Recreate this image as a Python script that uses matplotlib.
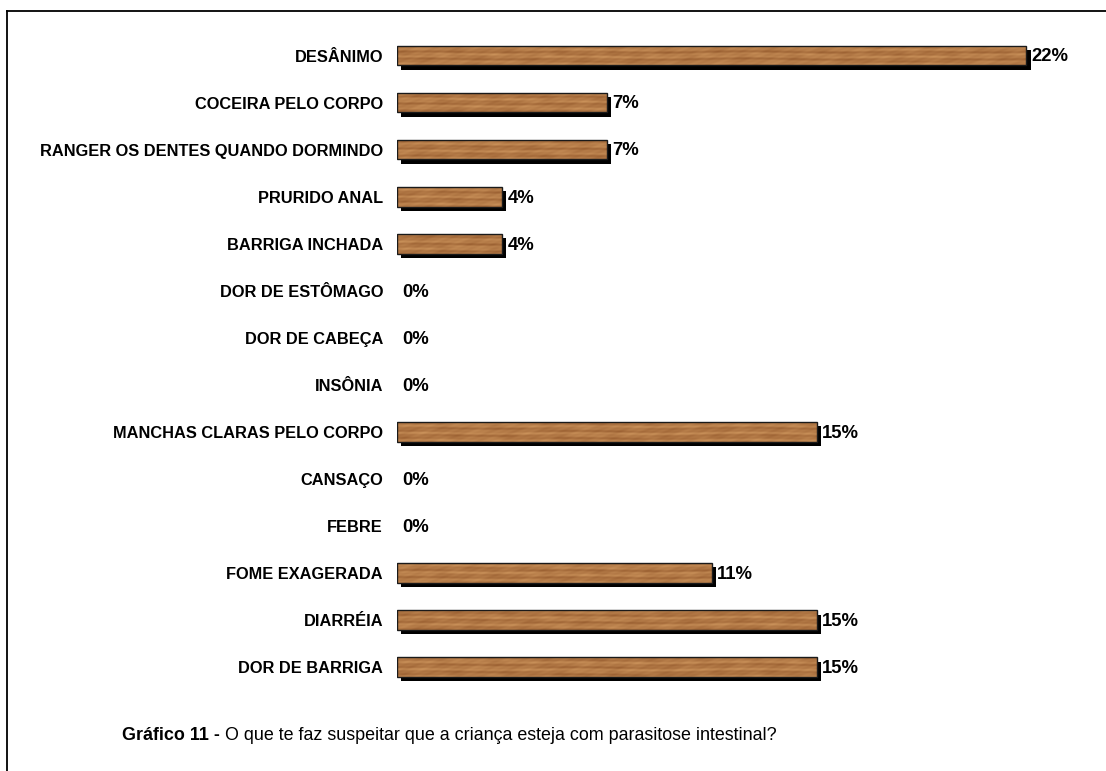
import numpy as np
import matplotlib.pyplot as plt
from matplotlib import patheffects
from matplotlib.lines import Line2D

plt.rcParams['font.family'] = ['Liberation Sans', 'DejaVu Sans']

# sintomas (de cima para baixo) e percentuais
sintomas = ['DESÂNIMO', 'COCEIRA PELO CORPO', 'RANGER OS DENTES QUANDO DORMINDO',
            'PRURIDO ANAL', 'BARRIGA INCHADA', 'DOR DE ESTÔMAGO', 'DOR DE CABEÇA',
            'INSÔNIA', 'MANCHAS CLARAS PELO CORPO', 'CANSAÇO', 'FEBRE',
            'FOME EXAGERADA', 'DIARRÉIA', 'DOR DE BARRIGA']
percentuais = [22.2, 7.4, 7.4, 3.7, 3.7, 0.0, 0.0, 0.0, 14.8, 0.0, 0.0, 11.1, 14.8, 14.8]

W, H = 1106, 771
fig = plt.figure(figsize=(W / 100, H / 100), dpi=100)
ax = fig.add_axes([397 / W, 1 - 690.5 / H, 703 / W, 658.5 / H])

y = np.arange(len(sintomas))
alt = 0.42
xmax = 24.8

# barras com sombra preta
sombra = [patheffects.SimplePatchShadow(offset=(3.2, -3.2), shadow_rgbFace='k', alpha=1.0),
          patheffects.Normal()]
barras = ax.barh(y, percentuais, height=alt, color='#ad7040', edgecolor='none', zorder=2)

# textura de madeira (veios horizontais com manchas)
ny, nx = 700, 1400
yy, xx = np.mgrid[0:ny, 0:nx]
veio = (np.sin(yy * 0.8 + 0.9 * np.sin(xx * 0.011))
        + 0.6 * np.sin(yy * 1.7 + 1.1 * np.sin(xx * 0.019 + 1.0))
        + 0.6 * np.sin(xx * 0.09 + 0.7 * np.sin(yy * 0.4)) * np.sin(xx * 0.031 + yy * 0.2)
        + 0.3 * np.sin(xx * 0.27 + yy * 1.3))
veio = (veio - veio.min()) / (veio.max() - veio.min())
escuro = np.array([0.60, 0.37, 0.19])
claro = np.array([0.80, 0.58, 0.36])
textura = escuro + (claro - escuro) * veio[..., None]

for b in barras:
    if b.get_width() <= 0:
        b.set_visible(False)
        continue
    b.set_path_effects(sombra)
    im = ax.imshow(textura, extent=(0, xmax, 13.5, -0.5), aspect='auto',
                   interpolation='bilinear', zorder=3)
    im.set_clip_path(b)
    contorno = plt.Rectangle(b.get_xy(), b.get_width(), b.get_height(),
                             facecolor='none', edgecolor='#1a1a1a', lw=1.0, zorder=4)
    ax.add_patch(contorno)

# rótulos de valor
for yi, v in zip(y, percentuais):
    dx = 4.0 if v > 0 else 3.5
    ax.annotate(f'{v:.0f}%', xy=(v, yi), xytext=(dx, -1), textcoords='offset points',
                ha='left', va='center', fontsize=13.3, fontweight='bold', zorder=5)

ax.set_xlim(0, xmax)
ax.set_ylim(13.5, -0.5)
ax.set_yticks(y)
ax.set_yticklabels(sintomas, fontsize=11.75, fontweight='bold')
ax.tick_params(axis='y', length=0, pad=10)
ax.set_xticks([])
for s in ax.spines.values():
    s.set_visible(False)
ax.patch.set_visible(False)

# moldura
fig.add_artist(Line2D([7 / W, 1.0], [1 - 11 / H, 1 - 11 / H], color='k', lw=1.3))
fig.add_artist(Line2D([7 / W, 7 / W], [0, 1 - 11 / H], color='k', lw=1.3))

# legenda do gráfico
t1 = fig.text(122 / W, 1 - 735 / H, 'Gráfico 11 - ', fontsize=12.9, fontweight='bold',
              ha='left', va='center')
fig.canvas.draw()
bb = t1.get_window_extent()
fig.text(bb.x1 / W, 1 - 735 / H,
         'O que te faz suspeitar que a criança esteja com parasitose intestinal?',
         fontsize=12.9, ha='left', va='center')

fig.savefig('out.png', dpi=100)
